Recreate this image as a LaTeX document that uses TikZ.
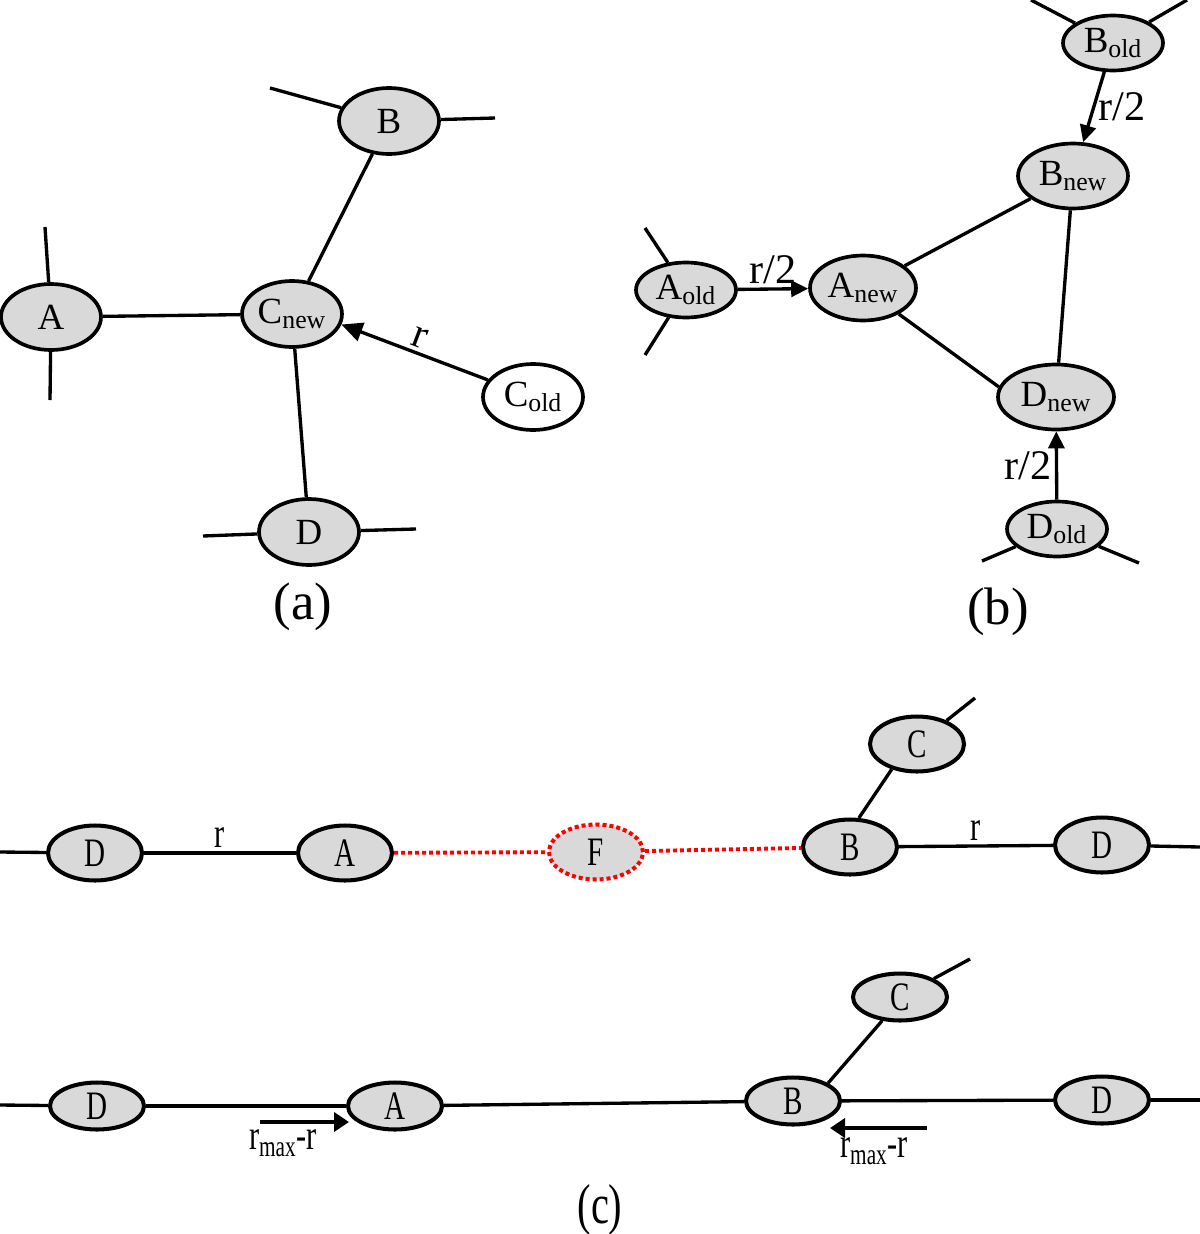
\documentclass[tikz,border=0pt]{standalone}
\usepackage{fontspec}
\setmainfont{Liberation Serif}
\newfontfamily\narrowfont[FakeStretch=0.72]{Liberation Serif}
\usetikzlibrary{shapes.geometric,arrows.meta}
\definecolor{nodegray}{RGB}{217,217,217}
\tikzset{
  peer/.style={ellipse, draw, line width=2.1pt, fill=nodegray, inner sep=0pt,
    font=\fontsize{21}{25}\selectfont},
  apeer/.style={peer, minimum width=2cm, minimum height=1.32cm},
  oldpeer/.style={peer, minimum width=2cm, minimum height=1.1cm},
  newpeer/.style={peer, minimum width=#1, minimum height=1.3cm},
  cpeer/.style={peer, line width=2.3pt, minimum width=1.88cm, minimum height=1.1cm,
    font=\narrowfont\fontsize{23}{27}\selectfont},
  upeer/.style={cpeer, minimum height=0.94cm},
  gone/.style={draw=red, dash pattern=on 0.08cm off 0.06cm},
  link/.style={line width=1.9pt},
  redlink/.style={red, line width=2.2pt, dash pattern=on 0.08cm off 0.06cm},
  push/.style={link, -{Triangle[length=0.34cm,width=0.32cm]}},
  lab/.style={font=\fontsize{24}{28}\selectfont, inner sep=2pt},
  clab/.style={font=\narrowfont\fontsize{24}{28}\selectfont, inner sep=2pt},
  paneltag/.style={font=\fontsize{30}{34}\selectfont}
}
\begin{document}
\begin{tikzpicture}[x=0.02cm,y=-0.02cm]
\useasboundingbox (0,0) rectangle (1200,1234);
% (a)
\node[apeer] (aB) at (389,121) {B};
\node[apeer] (aA) at (51,317) {A};
\node[apeer] (aCn) at (292,314) {C\textsubscript{new}};
\node[apeer, fill=white] (aCo) at (533,397) {C\textsubscript{old}};
\node[apeer] (aD) at (309,532) {D};
\draw[link] (aA) -- (aCn);
\draw[link] (aCn) -- (aB);
\draw[link] (aCn) -- (aD);
\draw[push, -{Triangle[length=0.42cm,width=0.38cm]}] (aCo) -- node[lab, sloped, above] {r} (aCn.-12);
\node[paneltag] (capa) at (303,607) {(a)};
% (b)
\node[oldpeer] (bBo) at (1113,43) {B\textsubscript{old}};
\node[newpeer=2.2cm] (bBn) at (1073,176) {B\textsubscript{new}};
\node[oldpeer] (bAo) at (686,290) {A\textsubscript{old}};
\node[newpeer=2.12cm] (bAn) at (863,288) {A\textsubscript{new}};
\node[newpeer=2.32cm] (bDn) at (1056,397) {D\textsubscript{new}};
\node[oldpeer] (bDo) at (1057,529) {D\textsubscript{old}};
\draw[push] (bBo) -- node[lab, right] {r/2} (bBn);
\draw[push] (bAo) -- node[lab, above] {r/2} (bAn);
\draw[push] (bDo) -- node[lab, left] {r/2} (bDn);
\draw[link] (bAn) -- (bBn);
\draw[link] (bAn.-36) -- (bDn.170);
\draw[link] (bBn) -- (bDn);
\node[paneltag] (capb) at (998,612) {(b)};
% (c)
\node[cpeer] (tD) at (95,853) {D};
\node[cpeer] (tA) at (345,853) {A};
\node[cpeer, gone] (tF) at (596,852) {F};
\node[cpeer] (tB) at (850,847) {B};
\node[cpeer] (tC) at (917,744) {C};
\node[cpeer] (tDr) at (1102,845) {D};
\draw[link] (tD) -- node[clab, above] {r} (tA);
\draw[redlink] (tA) -- (tF);
\draw[redlink] (tF) -- (tB);
\draw[link] (tB.73) -- (tC.225);
\draw[link] (tB) -- node[clab, above] {r} (tDr);
\node[upeer] (uD) at (97,1106) {D};
\node[upeer] (uA) at (395,1106) {A};
\node[upeer] (uB) at (793,1101) {B};
\node[upeer] (uC) at (900,997) {C};
\node[upeer] (uDr) at (1102,1100) {D};
\draw[link] (uD) -- (uA);
\draw[link] (uA) -- (uB);
\draw[link] (uB.27) -- (uC.233);
\draw[link] (uB) -- (uDr);
\coordinate (m1s) at (260,1122);
\coordinate (m1e) at (349,1122);
\coordinate (m2s) at (927,1128);
\coordinate (m2e) at (830,1128);
\draw[push, line width=2.6pt, -{Triangle[length=0.3cm,width=0.38cm]}] (m1s) -- (m1e);
\draw[push, line width=2.6pt, -{Triangle[length=0.3cm,width=0.38cm]}] (m2s) -- (m2e);
\node[clab] (m1) at (283,1143) {r\textsubscript{max}-r};
\node[clab] (m2) at (874,1151) {r\textsubscript{max}-r};
\node[paneltag, font=\narrowfont\fontsize{32}{36}\selectfont] (capc) at (600,1210) {(c)};
% stubs
\foreach \n/\x/\y [count=\i] in {aB/270/88, aB/495/118, aA/45/227, aA/50/400,
    aD/203/536, aD/416/529, bBo/1031/0, bBo/1187/0, bAo/645/228, bAo/645/355,
    bDo/982/561, bDo/1139/563, tD/0/852, tC/975/698, tDr/1200/847,
    uD/0/1105, uC/970/959, uDr/1200/1100}
  {\coordinate (stub\i) at (\x,\y);
   \draw[link] (\n) -- (stub\i);}
\end{tikzpicture}
\end{document}
